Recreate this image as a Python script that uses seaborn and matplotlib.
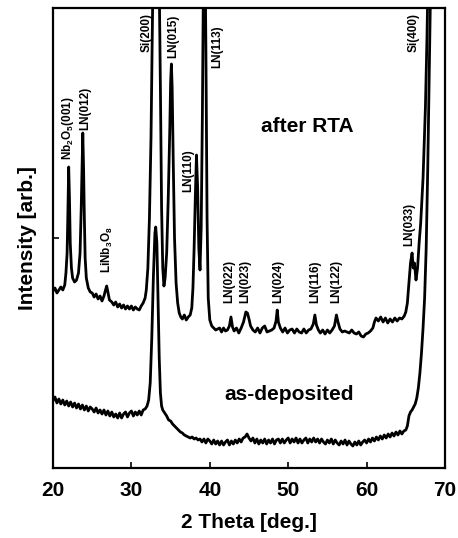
import numpy as np
import pandas as pd
import matplotlib
matplotlib.use("Agg")
import matplotlib.pyplot as plt
import seaborn as sns

# ---------------- data ----------------
# after RTA (upper trace), 2-theta in degrees and intensity in arbitrary units
rta_theta = [20.0, 20.25, 20.5, 20.75, 21.0, 21.25, 21.5, 21.65, 21.8, 21.9, 22.0, 22.1, 22.2, 22.35, 22.5, 22.75,
             23.0, 23.25, 23.45, 23.6, 23.7, 23.8, 23.9, 24.0, 24.1, 24.25, 24.5, 24.75, 25.0, 25.25, 25.5, 25.75,
             26.0, 26.25, 26.5, 26.7, 26.85, 27.0, 27.2, 27.5, 27.75, 28.0, 28.25, 28.5, 28.75, 29.0, 29.25, 29.5,
             29.75, 30.0, 30.25, 30.5, 30.75, 31.0, 31.25, 31.5, 31.75, 31.9, 32.1, 32.3, 32.5, 32.7, 32.9, 33.2,
             33.5, 33.7, 33.85, 34.0, 34.15, 34.3, 34.5, 34.7, 34.9, 35.0, 35.1, 35.2, 35.35, 35.5, 35.7, 35.9,
             36.1, 36.3, 36.5, 36.75, 37.0, 37.25, 37.5, 37.7, 37.85, 38.0, 38.15, 38.3, 38.45, 38.6, 38.75, 38.9,
             39.05, 39.2, 39.35, 39.5, 39.65, 39.8, 40.0, 40.25, 40.5, 40.75, 41.0, 41.25, 41.5, 41.75, 42.0, 42.25,
             42.5, 42.7, 42.9, 43.1, 43.4, 43.7, 44.0, 44.3, 44.6, 44.8, 45.0, 45.2, 45.5, 45.8, 46.1, 46.4,
             46.7, 47.0, 47.3, 47.6, 47.9, 48.2, 48.45, 48.6, 48.75, 49.0, 49.3, 49.6, 49.9, 50.2, 50.5, 50.8,
             51.1, 51.4, 51.7, 52.0, 52.3, 52.6, 52.9, 53.2, 53.4, 53.6, 53.85, 54.1, 54.4, 54.7, 55.0, 55.3,
             55.6, 55.9, 56.15, 56.35, 56.6, 56.9, 57.2, 57.5, 57.8, 58.1, 58.4, 58.7, 59.0, 59.3, 59.6, 59.9,
             60.2, 60.5, 60.8, 61.0, 61.2, 61.5, 61.8, 62.1, 62.4, 62.7, 63.0, 63.3, 63.6, 63.9, 64.2, 64.5,
             64.8, 65.0, 65.2, 65.4, 65.6, 65.8, 65.95, 66.1, 66.3, 66.5, 66.7, 66.9, 67.2, 67.5, 67.7, 67.9,
             68.1, 68.3]
rta_int = [177, 180, 175, 178, 181, 178, 183, 195, 215, 255, 301, 270, 225, 200, 190, 186,
           188, 195, 215, 260, 300, 335, 300, 250, 210, 190, 180, 176, 175, 171, 174, 169,
           172, 167, 172, 178, 182, 176, 168, 166, 163, 166, 161, 164, 160, 163, 159, 162,
           159, 162, 158, 161, 159, 158, 162, 165, 170, 178, 200, 250, 330, 460, 560, 600,
           520, 380, 260, 200, 182, 190, 215, 270, 340, 385, 404, 380, 300, 230, 185, 165,
           155, 151, 149, 153, 148, 151, 153, 160, 180, 220, 270, 313, 280, 220, 198, 240,
           350, 500, 560, 420, 250, 170, 148, 142, 140, 138, 139, 140, 136, 140, 137, 138,
           142, 151, 141, 137, 140, 135, 140, 146, 156, 155, 149, 142, 138, 136, 140, 135,
           140, 142, 136, 137, 138, 140, 147, 158, 146, 140, 136, 140, 135, 138, 139, 135,
           139, 136, 135, 139, 135, 138, 139, 144, 153, 143, 138, 135, 138, 134, 138, 135,
           138, 142, 153, 146, 139, 136, 137, 136, 135, 138, 135, 134, 136, 132, 131, 134,
           135, 137, 140, 146, 150, 147, 151, 146, 150, 145, 149, 146, 150, 147, 150, 149,
           152, 156, 165, 185, 205, 215, 200, 205, 188, 200, 225, 245, 290, 360, 430, 520,
           600, 650]

# as-deposited (lower trace)
dep_theta = [20.0, 20.25, 20.5, 20.75, 21.0, 21.25, 21.5, 21.75, 22.0, 22.25, 22.5, 22.75, 23.0, 23.25, 23.5, 23.75,
             24.0, 24.25, 24.5, 24.75, 25.0, 25.25, 25.5, 25.75, 26.0, 26.25, 26.5, 26.75, 27.0, 27.25, 27.5, 27.75,
             28.0, 28.25, 28.5, 28.75, 29.0, 29.25, 29.5, 29.75, 30.0, 30.25, 30.5, 30.75, 31.0, 31.25, 31.5, 31.75,
             32.0, 32.2, 32.4, 32.6, 32.8, 33.0, 33.1, 33.25, 33.4, 33.55, 33.7, 33.85, 34.0, 34.25, 34.5, 34.75,
             35.0, 35.25, 35.5, 35.75, 36.0, 36.25, 36.5, 36.75, 37.0, 37.25, 37.5, 37.75, 38.0, 38.25, 38.5, 38.75,
             39.0, 39.25, 39.5, 39.75, 40.0, 40.25, 40.5, 40.75, 41.0, 41.25, 41.5, 41.75, 42.0, 42.25, 42.5, 42.75,
             43.0, 43.25, 43.5, 43.75, 44.0, 44.25, 44.5, 44.75, 45.0, 45.25, 45.5, 45.75, 46.0, 46.25, 46.5, 46.75,
             47.0, 47.25, 47.5, 47.75, 48.0, 48.25, 48.5, 48.75, 49.0, 49.25, 49.5, 49.75, 50.0, 50.25, 50.5, 50.75,
             51.0, 51.25, 51.5, 51.75, 52.0, 52.25, 52.5, 52.75, 53.0, 53.25, 53.5, 53.75, 54.0, 54.25, 54.5, 54.75,
             55.0, 55.25, 55.5, 55.75, 56.0, 56.25, 56.5, 56.75, 57.0, 57.25, 57.5, 57.75, 58.0, 58.25, 58.5, 58.75,
             59.0, 59.25, 59.5, 59.75, 60.0, 60.25, 60.5, 60.75, 61.0, 61.25, 61.5, 61.75, 62.0, 62.25, 62.5, 62.75,
             63.0, 63.25, 63.5, 63.75, 64.0, 64.25, 64.5, 64.75, 65.0, 65.2, 65.4, 65.6, 65.8, 66.0, 66.2, 66.4,
             66.6, 66.8, 67.0, 67.2, 67.4, 67.6, 67.8, 68.0, 68.2, 68.3]
dep_int = [67, 71, 65, 69, 64, 68, 63, 67, 62, 66, 61, 65, 60, 64, 59, 63,
           58, 62, 57, 61, 59, 56, 60, 55, 58, 54, 58, 53, 57, 52, 56, 51,
           54, 50, 55, 50, 54, 56, 51, 55, 57, 52, 56, 53, 57, 53, 58, 59,
           62, 68, 85, 130, 190, 235, 241, 225, 170, 110, 75, 62, 58, 55, 52, 48,
           47, 44, 42, 40, 38, 36, 35, 33, 32, 31, 30, 31, 29, 30, 28, 29,
           26, 29, 25, 29, 27, 24, 28, 24, 27, 23, 27, 23, 26, 28, 23, 27,
           24, 28, 25, 29, 26, 30, 31, 34, 30, 27, 30, 25, 29, 24, 28, 25,
           29, 24, 28, 25, 29, 24, 28, 29, 25, 29, 25, 28, 30, 25, 29, 26,
           30, 25, 29, 25, 28, 30, 25, 29, 26, 30, 26, 29, 25, 29, 26, 24,
           28, 25, 29, 24, 28, 25, 23, 27, 24, 28, 23, 27, 24, 22, 26, 23,
           27, 23, 26, 28, 25, 29, 26, 30, 27, 31, 28, 32, 29, 33, 30, 34,
           31, 35, 32, 36, 33, 37, 34, 37, 38, 42, 52, 56, 58, 61, 64, 70,
           80, 95, 115, 140, 170, 220, 300, 400, 500, 600]

peak_labels = ["Nb$_2$O$_5$(001)", "LN(012)", "LiNb$_3$O$_8$", "Si(200)", "LN(015)", "LN(110)", "LN(113)",
               "LN(022)", "LN(023)", "LN(024)", "LN(116)", "LN(122)", "LN(033)", "Si(400)"]
label_theta = [21.9, 24.1, 27.0, 31.9, 35.3, 37.2, 40.9, 42.45, 44.5, 48.7, 53.4, 56.1, 65.4, 66.05]
label_int = [308, 338, 195, 416, 410, 276, 400, 165, 165, 165, 165, 165, 222, 416]

series_names = ["after RTA", "as-deposited"]
x_ticks = [20, 30, 40, 50, 60, 70]

# ---------------- plotting ----------------
sns.set_theme(style="ticks")
plt.rcParams["font.family"] = ["Liberation Sans", "DejaVu Sans"]
plt.rcParams["font.weight"] = "bold"
plt.rcParams["text.color"] = "black"
plt.rcParams["axes.labelcolor"] = "black"
plt.rcParams["xtick.color"] = "black"
plt.rcParams["ytick.color"] = "black"
plt.rcParams["mathtext.fontset"] = "custom"
plt.rcParams["mathtext.rm"] = "Liberation Sans:bold"
plt.rcParams["mathtext.it"] = "Liberation Sans:bold"
plt.rcParams["mathtext.bf"] = "Liberation Sans:bold"

df = pd.concat([
    pd.DataFrame({"theta": rta_theta, "intensity": rta_int, "sample": series_names[0]}),
    pd.DataFrame({"theta": dep_theta, "intensity": dep_int, "sample": series_names[1]}),
])

fig = plt.figure(figsize=(4.58, 5.38), dpi=100)
ax = fig.add_axes([53 / 458, 70 / 538, 392 / 458, 460 / 538])

sns.lineplot(data=df, x="theta", y="intensity", units="sample", estimator=None,
             color="black", linewidth=2.0, legend=False, ax=ax)

ax.set_xlim(20, 70)
ax.set_ylim(0, 460)
ax.set_xticks(x_ticks)
ax.set_xticklabels([str(t) for t in x_ticks])
ax.set_yticks([230])
ax.set_yticklabels([])
ax.tick_params(axis="both", direction="in", length=4.5, width=1.2, color="black")
ax.tick_params(axis="x", labelsize=15, pad=9, labelcolor="black")
for lab in ax.get_xticklabels():
    lab.set_fontweight("bold")
for sp in ax.spines.values():
    sp.set_linewidth(1.6)
    sp.set_color("black")
    sp.set_visible(True)

ax.set_xlabel("2 Theta [deg.]", fontsize=15, fontweight="bold", labelpad=10, color="black")
ax.set_ylabel("Intensity [arb.]", fontsize=15, fontweight="bold", labelpad=8, color="black")

for txt, tx, ty in zip(peak_labels, label_theta, label_int):
    ax.text(tx, ty, txt, rotation=90, ha="center", va="bottom", fontsize=8.5,
            fontweight="bold", color="black")

ax.text(52.5, 341, series_names[0], ha="center", va="center", fontsize=15, fontweight="bold", color="black")
ax.text(50.1, 73, series_names[1], ha="center", va="center", fontsize=15, fontweight="bold", color="black")

fig.savefig("out.png", dpi=100)
